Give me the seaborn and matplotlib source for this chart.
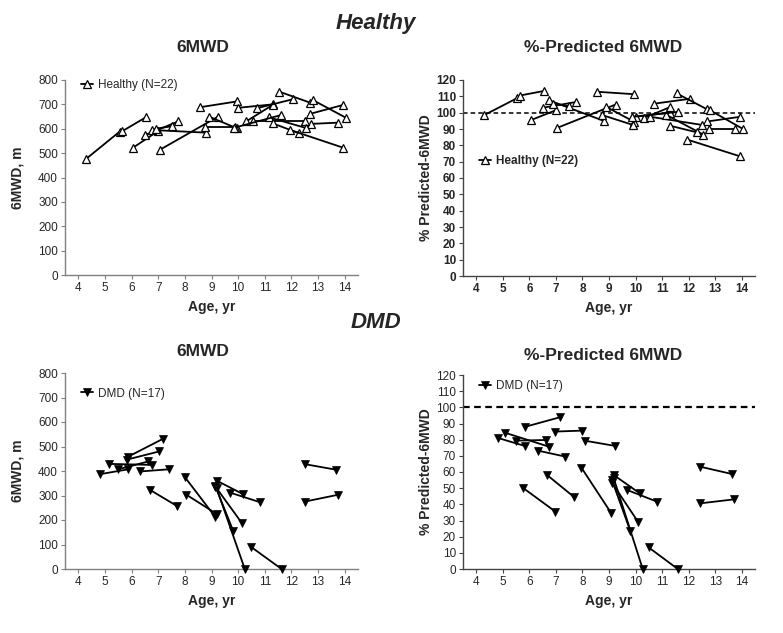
import numpy as np
import pandas as pd
import matplotlib
matplotlib.use("Agg")
import matplotlib.pyplot as plt
from matplotlib.lines import Line2D
import seaborn as sns

# Healthy: one row per subject, two visits
healthy_age_1 = [4.3, 5.65, 6.05, 6.5, 6.75, 6.9, 7.05, 8.9, 8.75, 8.55, 10.0,
                 10.3, 10.7, 11.55, 12.8, 12.7, 12.75, 10.55, 11.15, 11.3, 11.95, 9.85]
healthy_age_2 = [5.55, 6.55, 7.0, 7.75, 8.8, 7.5, 9.25, 9.95, 9.9, 9.95, 11.3,
                 11.3, 12.05, 12.7, 14.05, 13.95, 13.75, 12.5, 12.55, 12.3, 13.95, 11.6]
healthy_mwd_1 = [477, 590, 522, 574, 595, 600, 513, 650, 609, 688, 686,
                 630, 684, 752, 718, 661, 620, 630, 647, 622, 595, 604]
healthy_mwd_2 = [588, 648, 591, 630, 584, 610, 650, 602, 609, 712, 700,
                 698, 721, 707, 645, 698, 625, 630, 603, 581, 522, 656]
healthy_pct_1 = [98.5, 110.5, 95.4, 103, 107.5, 105.5, 90.7, 103.5, 98.5, 112.8, 97.5,
                 96.6, 105.5, 111.8, 101.5, 94.6, 90, 97.5, 98.7, 92, 83.5, 97.4]
healthy_pct_2 = [109, 113.3, 101.5, 106.5, 95, 104, 105, 94.4, 92.5, 111.3, 100,
                 103.4, 108.5, 102, 90, 97.5, 90, 92.5, 86.6, 88, 73.2, 100.5]

# DMD 6MWD panel
dmd_mwd_age_1 = [5.88, 5.81, 5.16, 5.5, 4.81, 6.31, 6.69, 8.0, 8.06, 9.19, 9.13,
                 9.15, 9.19, 9.69, 10.5, 12.5, 12.5]
dmd_mwd_age_2 = [7.19, 7.04, 6.75, 6.63, 5.88, 7.41, 7.69, 9.13, 9.19, 10.19, 10.13,
                 9.81, 10.25, 10.81, 11.63, 13.69, 13.75]
dmd_mwd_1 = [459, 446, 429, 407, 387, 398, 323, 375, 303, 361, 339,
             336, 330, 312, 89, 428, 275]
dmd_mwd_2 = [532, 480, 425, 439, 407, 407, 258, 214, 225, 305, 189,
             157, 0, 273, 0, 405, 303]

# DMD %-predicted panel
dmd_pct_age_1 = [5.85, 6.95, 8.08, 5.08, 4.83, 5.48, 6.33, 5.75, 6.67, 7.96, 9.18,
                 9.11, 9.11, 9.18, 9.68, 10.49, 12.43, 12.43]
dmd_pct_age_2 = [7.14, 8.0, 9.24, 6.73, 5.83, 6.61, 7.36, 6.98, 7.67, 9.09, 10.16,
                 10.09, 9.8, 10.27, 10.8, 11.59, 13.62, 13.72]
dmd_pct_1 = [88, 85, 79.4, 84.3, 81, 79.4, 73.2, 50.3, 58.1, 62.7, 58.1,
             53.4, 55, 56, 48.9, 13.4, 63.3, 40.6]
dmd_pct_2 = [93.8, 85.6, 76.1, 75.7, 76.1, 79.8, 69.5, 35.5, 44.7, 34.4, 46.8,
             29.3, 23.7, 0, 41.7, 0, 58.8, 43.1]

age_ticks = list(range(4, 15))


def long_form(age1, age2, v1, v2):
    n = len(age1)
    return pd.DataFrame({
        "subject": list(range(n)) * 2,
        "age": list(age1) + list(age2),
        "value": list(v1) + list(v2),
    })


sns.set_style("ticks")
plt.rcParams["font.family"] = ["Liberation Sans", "DejaVu Sans"]

fig = plt.figure(figsize=(7.83, 6.33), dpi=100)
W, H = 783.0, 633.0


def make_ax(left, right, top, bottom):
    return fig.add_axes([left / W, 1 - bottom / H, (right - left) / W, (bottom - top) / H])


ax1 = make_ax(65, 358, 80, 275)
ax2 = make_ax(463, 755, 80, 276)
ax3 = make_ax(65, 358, 373, 569)
ax4 = make_ax(463, 755, 375, 569)

healthy_style = dict(marker="^", markersize=5.5, markerfacecolor="white",
                     markeredgecolor="black", markeredgewidth=0.9)
dmd_style = dict(marker="v", markersize=5.5, markerfacecolor="black",
                 markeredgecolor="black", markeredgewidth=0.5)

panels = [
    (ax1, long_form(healthy_age_1, healthy_age_2, healthy_mwd_1, healthy_mwd_2), healthy_style),
    (ax2, long_form(healthy_age_1, healthy_age_2, healthy_pct_1, healthy_pct_2), healthy_style),
    (ax3, long_form(dmd_mwd_age_1, dmd_mwd_age_2, dmd_mwd_1, dmd_mwd_2), dmd_style),
    (ax4, long_form(dmd_pct_age_1, dmd_pct_age_2, dmd_pct_1, dmd_pct_2), dmd_style),
]

for ax, df, style in panels:
    sns.lineplot(data=df, x="age", y="value", units="subject", estimator=None,
                 color="black", linewidth=1.3, legend=False, ax=ax,
                 clip_on=False, zorder=3, **style)

for ax in (ax2, ax4):
    ax.axhline(100, color="black", linestyle="--", linewidth=1.1 if ax is ax2 else 1.6,
               dashes=(3, 2), zorder=2)

# axes styling
for i, ax in enumerate((ax1, ax2, ax3, ax4)):
    pct = i in (1, 3)
    bold = i == 1
    ax.set_xlim(3.5, 14.5)
    ax.set_xticks(age_ticks)
    if pct:
        ax.set_ylim(0, 120)
        ax.set_yticks(range(0, 121, 10))
        ax.set_ylabel("% Predicted-6MWD", fontsize=10, fontweight="bold", labelpad=2)
    else:
        ax.set_ylim(0, 800)
        ax.set_yticks(range(0, 801, 100))
        ax.set_ylabel("6MWD, m", fontsize=10, fontweight="bold", labelpad=10)
    ax.set_xlabel("Age, yr", fontsize=10, fontweight="bold", labelpad=4)
    sns.despine(ax=ax)
    spine_col = "#444444" if pct else "#808080"
    for side in ("left", "bottom"):
        ax.spines[side].set_color(spine_col)
        ax.spines[side].set_linewidth(1.0)
    ax.tick_params(axis="both", length=3, width=0.8, color=spine_col, pad=2,
                   labelsize=8.5)
    for lab in ax.get_xticklabels() + ax.get_yticklabels():
        lab.set_fontweight("bold" if bold else "normal")

# legends
h_healthy = Line2D([], [], color="black", linewidth=1.3, **healthy_style)
h_dmd = Line2D([], [], color="black", linewidth=1.3, **dmd_style)
leg_kw = dict(frameon=False, handlelength=1.0, handletextpad=0.4, borderaxespad=0)
ax1.legend([h_healthy], ["Healthy (N=22)"], loc="upper left",
           bbox_to_anchor=(0.04, 1.03), prop={"size": 8.5}, **leg_kw)
ax2.legend([h_healthy], ["Healthy (N=22)"], loc="center left",
           bbox_to_anchor=(0.04, 0.585), prop={"size": 8.5, "weight": "bold"}, **leg_kw)
ax3.legend([h_dmd], ["DMD (N=17)"], loc="upper left",
           bbox_to_anchor=(0.04, 0.95), prop={"size": 8.5}, **leg_kw)
ax4.legend([h_dmd], ["DMD (N=17)"], loc="upper left",
           bbox_to_anchor=(0.04, 1.0), prop={"size": 8.5}, **leg_kw)

# titles
fig.text(376 / W, 1 - 23 / H, "Healthy", ha="center", va="center",
         fontsize=16, fontweight="bold", style="italic")
fig.text(376 / W, 1 - 322 / H, "DMD", ha="center", va="center",
         fontsize=16, fontweight="bold", style="italic")
for y in (48, 352):
    fig.text(203 / W, 1 - y / H, "6MWD", ha="center", va="center",
             fontsize=12.5, fontweight="bold")
for y in (47, 355):
    fig.text(603 / W, 1 - y / H, "%-Predicted 6MWD", ha="center", va="center",
             fontsize=12.5, fontweight="bold")

fig.savefig("out.png", dpi=100)
